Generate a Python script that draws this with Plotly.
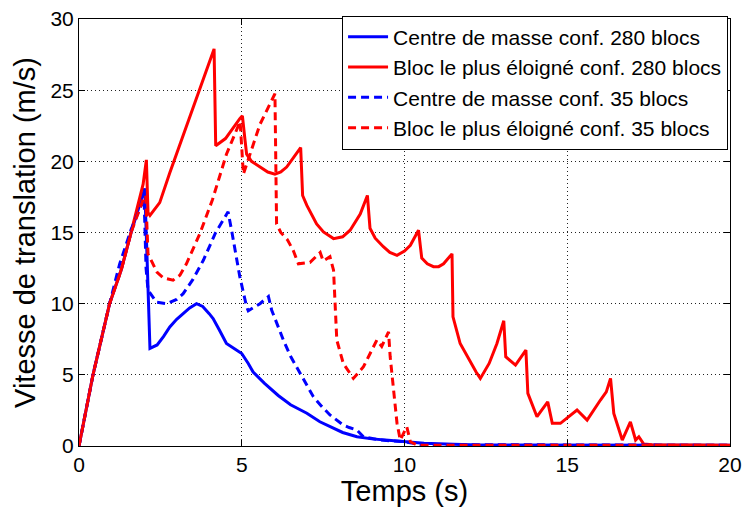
import plotly.graph_objects as go

# Time samples (s) and translational speed (m/s) for each configuration
t_cm_280 = [0, 0.43, 0.94, 1.3, 1.6, 1.97, 2.02, 2.08, 2.15, 2.18, 2.4, 2.6, 2.79, 3.0, 3.2,
            3.4, 3.61, 3.8, 4.0, 4.12, 4.3, 4.53, 4.8, 5.0, 5.2, 5.35, 5.7, 6.12, 6.5, 7.0,
            7.4, 7.71, 8.1, 8.54, 9.0, 9.5, 10.07, 10.6, 11.5, 12.3, 20]
v_cm_280 = [0, 5, 10, 12.4, 15, 17.6, 18.1, 14, 8, 6.86, 7.1, 7.7, 8.37, 8.9, 9.3,
            9.7, 10.0, 9.8, 9.3, 8.96, 8.2, 7.2, 6.8, 6.5, 5.8, 5.2, 4.4, 3.55, 2.9, 2.3,
            1.7, 1.35, 0.95, 0.65, 0.5, 0.4, 0.3, 0.2, 0.12, 0.07, 0.05]

t_far_280 = [0, 0.43, 0.94, 1.3, 1.6, 1.97, 2.07, 2.12, 2.18, 2.48, 2.79, 3.04, 4.15, 4.2,
             4.5, 4.94, 5.02, 5.1, 5.15, 5.3, 5.56, 5.8, 6.02, 6.2, 6.38, 6.6, 6.81, 6.87,
             7.0, 7.3, 7.51, 7.82, 8.1, 8.33, 8.64, 8.86, 8.94, 9.1, 9.35, 9.55, 9.77, 10.0,
             10.18, 10.43, 10.53, 10.7, 10.89, 11.05, 11.2, 11.46, 11.49, 11.71, 12.0, 12.2,
             12.33, 12.6, 12.84, 13.05, 13.11, 13.41, 13.73, 13.79, 14.07, 14.4, 14.54,
             14.79, 15.3, 15.61, 16.02, 16.2, 16.33, 16.43, 16.69, 16.94, 17.1, 17.2,
             17.35, 17.6, 20]
v_far_280 = [0, 5, 10, 12.4, 15, 18.4, 20.1, 16.4, 16.2, 17.1, 19.2, 20.8, 27.9, 21.1,
             21.6, 23.0, 23.2, 21.5, 20.5, 20.0, 19.6, 19.25, 19.1, 19.25, 19.6, 20.3, 20.96, 17.6,
             16.9, 15.6, 15.04, 14.57, 14.7, 15.16, 16.3, 17.6, 15.3, 14.6, 14.0, 13.6, 13.4, 13.7,
             14.1, 15.16, 13.2, 12.8, 12.6, 12.6, 12.8, 13.5, 9.07, 7.2, 6.0, 5.2,
             4.75, 5.8, 7.2, 8.8, 6.27, 5.68, 6.74, 3.7, 2.06, 3.1, 1.59,
             1.59, 2.53, 1.82, 3.23, 3.8, 4.75, 2.29, 0.42, 1.7, 0.42, 0.65,
             0.14, 0.08, 0.05]

t_cm_35 = [0, 0.43, 0.94, 1.25, 1.6, 2.0, 2.06, 2.12, 2.38, 2.7, 3.0, 3.2, 3.5, 3.82, 4.2,
           4.58, 4.7, 4.94, 5.15, 5.2, 5.56, 5.82, 5.92, 6.28, 6.5, 6.79, 7.0, 7.2, 7.45,
           7.71, 8.1, 8.3, 8.54, 8.74, 9.25, 10.0, 10.5, 20]
v_cm_35 = [0, 5, 10, 12.8, 15.2, 17.4, 12.5, 10.95, 10.1, 10.0, 10.3, 10.7, 11.7, 13.05, 15.0,
           16.45, 15.0, 11.9, 9.77, 9.5, 10.0, 10.5, 9.54, 7.44, 6.3, 5.1, 4.2, 3.46, 2.8,
           2.18, 1.5, 1.3, 1.12, 0.65, 0.42, 0.3, 0.1, 0.05]

t_far_35 = [0, 0.43, 0.94, 1.3, 1.6, 1.97, 2.05, 2.12, 2.4, 2.6, 2.89, 3.1, 3.3, 3.71, 4.1,
            4.53, 4.84, 4.95, 5.05, 5.56, 6.02, 6.07, 6.2, 6.4, 6.58, 6.74, 7.1, 7.41, 7.5,
            7.71, 7.82, 7.92, 8.12, 8.43, 8.74, 9.15, 9.3, 9.51, 9.56, 9.77, 9.87, 10.07,
            10.18, 10.4, 20]
v_far_35 = [0, 5, 10, 12.4, 15, 17.3, 17.6, 13.5, 12.2, 11.8, 11.65, 12.0, 12.8, 14.9, 17.3,
            20.5, 22.2, 22.8, 19.1, 22.6, 24.75, 15.6, 15.0, 14.5, 13.75, 12.8, 12.9, 13.6, 13.0,
            13.3, 12.35, 7.44, 5.8, 4.75, 5.57, 7.44, 7.0, 8.02, 6.27, 1.6, 0.42, 1.35,
            0.3, 0.05, 0.05]

names = ["Centre de masse conf. 280 blocs",
         "Bloc le plus éloigné conf. 280 blocs",
         "Centre de masse conf. 35 blocs",
         "Bloc le plus éloigné conf. 35 blocs"]

x_ticks = [0, 5, 10, 15, 20]
y_ticks = [0, 5, 10, 15, 20, 25, 30]

FONT = "Liberation Sans, Arial, sans-serif"
DASH = "8px,5px"

series = [
    (t_cm_280, v_cm_280, names[0], "#0000ff", "solid"),
    (t_far_280, v_far_280, names[1], "#ff0000", "solid"),
    (t_cm_35, v_cm_35, names[2], "#0000ff", DASH),
    (t_far_35, v_far_35, names[3], "#ff0000", DASH),
]

fig = go.Figure()
for t, v, name, color, dash in series:
    fig.add_trace(go.Scatter(
        x=t, y=v, mode="lines", name=name,
        line=dict(color=color, width=3, dash=dash),
    ))

axis_common = dict(
    showline=True, linecolor="black", linewidth=1, mirror="ticks",
    ticks="inside", ticklen=6, tickcolor="black",
    showgrid=True, gridcolor="#222222", gridwidth=1, griddash="1px,3px",
    zeroline=False, automargin=False,
    tickfont=dict(family=FONT, size=21, color="black"),
)

fig.update_xaxes(range=[0, 20], tickvals=x_ticks,
                 title=dict(text="Temps (s)", font=dict(family=FONT, size=29, color="black"),
                            standoff=4),
                 **axis_common)
fig.update_yaxes(range=[0, 30], tickvals=y_ticks,
                 title=dict(text="Vitesse de translation (m/s)",
                            font=dict(family=FONT, size=29, color="black"), standoff=6),
                 **axis_common)

fig.update_layout(
    width=744, height=507,
    margin=dict(l=79, r=14, t=19, b=61),
    paper_bgcolor="white", plot_bgcolor="white",
    font=dict(family=FONT, color="black"),
    legend=dict(
        x=0.997, xanchor="right", y=1.008, yanchor="top",
        bgcolor="white", bordercolor="black", borderwidth=1,
        font=dict(family=FONT, size=21, color="black"),
        itemwidth=40, tracegroupgap=0,
    ),
    showlegend=True,
)

fig.write_html("out.html")
